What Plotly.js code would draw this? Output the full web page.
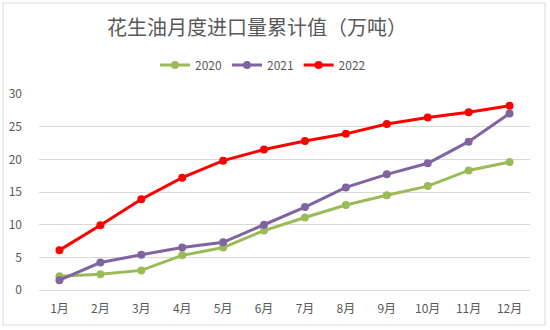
<!DOCTYPE html>
<html>
<head>
<meta charset="utf-8">
<script src="https://cdn.plot.ly/plotly-3.0.1.min.js"></script>
<style>html,body{margin:0;padding:0;background:#fff;}#chart{width:550px;height:330px;}</style>
</head>
<body>
<div id="chart"></div>
<script>
const months = ["1月","2月","3月","4月","5月","6月","7月","8月","9月","10月","11月","12月"];
const seriesNames = ["2020","2021","2022"];
const v2020 = [2.1, 2.4, 3.0, 5.3, 6.5, 9.1, 11.1, 13.0, 14.5, 15.9, 18.3, 19.6];
const v2021 = [1.5, 4.2, 5.4, 6.5, 7.3, 10.0, 12.7, 15.7, 17.7, 19.4, 22.7, 27.0];
const v2022 = [6.1, 9.9, 13.9, 17.2, 19.8, 21.5, 22.8, 23.9, 25.4, 26.4, 27.2, 28.2];
const yTicks = [0, 5, 10, 15, 20, 25, 30];

const colors = ["#9BBB59", "#8064A2", "#FF0000"];
const values = [v2020, v2021, v2022];
const font = "'Noto Sans CJK SC', 'Noto Sans', sans-serif";

const traces = values.map((v, i) => ({
  x: months, y: v, name: seriesNames[i], type: "scatter", mode: "lines+markers",
  line: {color: colors[i], width: 3},
  marker: {color: colors[i], size: 8}
}));

const L = 39, R = 530, T = 94, B = 290;
const W = R - L, H = B - T;
const px = x => (x - L) / W;
const py = y => (B - y) / H;

const layout = {
  width: 550, height: 330,
  margin: {l: L, r: 550 - R, t: T, b: 330 - B},
  paper_bgcolor: "#ffffff", plot_bgcolor: "#ffffff",
  font: {family: font, color: "#595959", size: 12},
  title: {text: "花生油月度进口量累计值（万吨）", font: {family: font, size: 20, color: "#595959"},
          xref: "container", x: 257 / 550, xanchor: "center", yref: "container", y: 1 - 28 / 330, yanchor: "middle"},
  showlegend: true,
  legend: {orientation: "h", x: px(263), xanchor: "center", y: py(65), yanchor: "middle",
           font: {family: font, size: 12, color: "#595959"}, itemwidth: 30, tracegroupgap: 0, bgcolor: "rgba(0,0,0,0)"},
  xaxis: {type: "category", range: [-0.5, 11.5], showgrid: false, zeroline: false, showline: false,
          ticks: "", tickfont: {family: font, size: 12, color: "#595959"}, ticklabelstandoff: 10, fixedrange: true},
  yaxis: {range: [0, 30], tickvals: yTicks, ticktext: yTicks.map(String), showgrid: true, gridcolor: "#D9D9D9", gridwidth: 1,
          zeroline: true, zerolinecolor: "#D9D9D9", showline: false, ticks: "",
          tickfont: {family: font, size: 12, color: "#595959"}, ticklabelstandoff: 16, fixedrange: true},
  shapes: [{type: "rect", xref: "paper", yref: "paper", x0: px(3), x1: px(545), y0: py(325), y1: py(3),
            line: {color: "#D9D9D9", width: 1}, fillcolor: "rgba(0,0,0,0)", layer: "below"}]
};

Plotly.newPlot("chart", traces, layout, {staticPlot: true, displayModeBar: false});
</script>
</body>
</html>
